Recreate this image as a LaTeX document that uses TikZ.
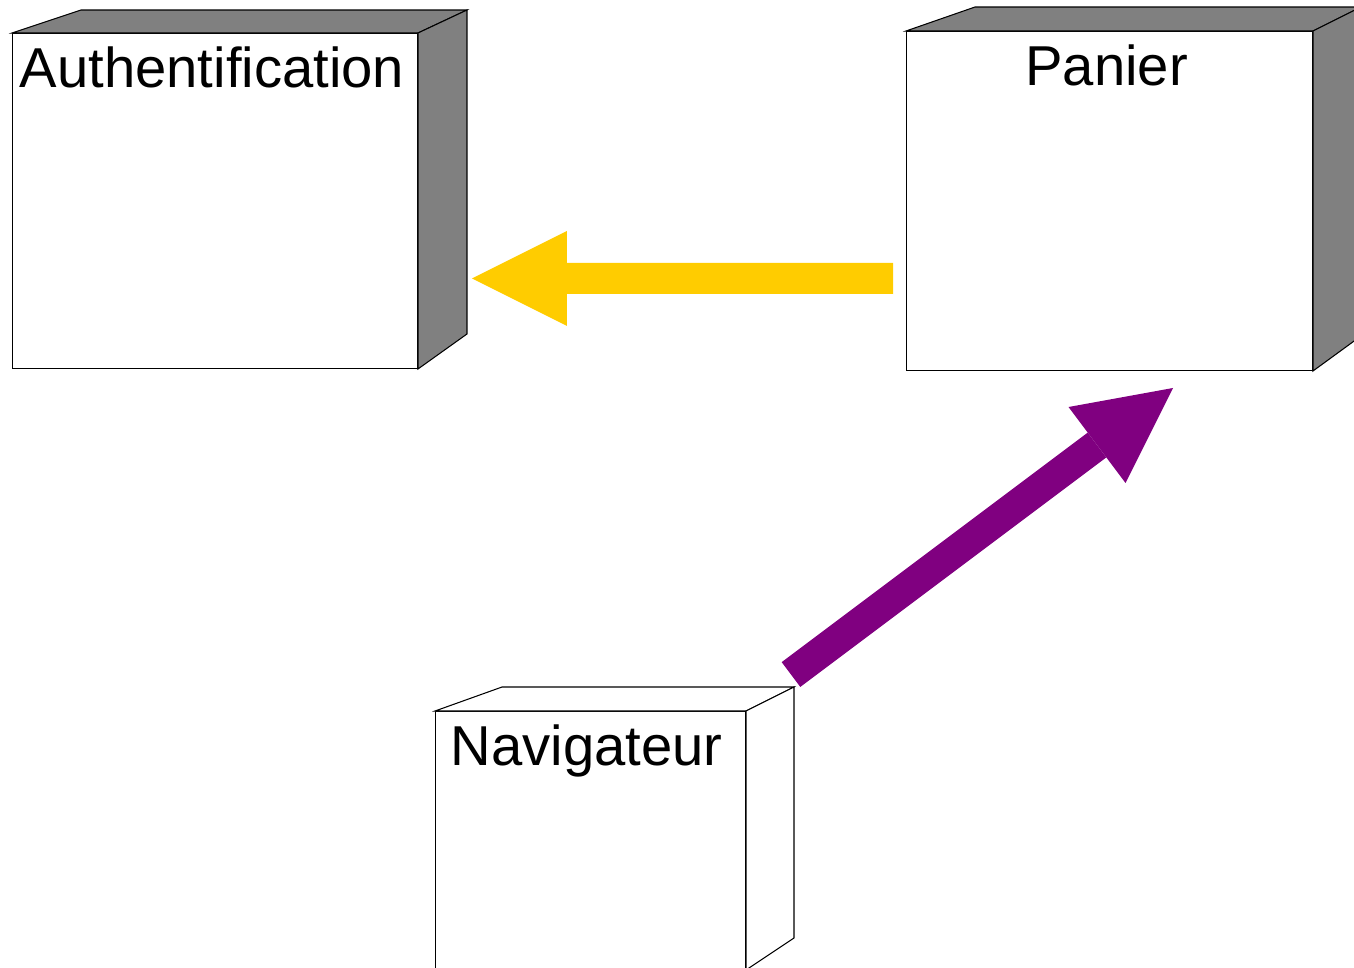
\documentclass[tikz,border=0pt]{standalone}
\usepackage{fontspec}
\setmainfont{Liberation Sans}
\usetikzlibrary{arrows.meta,calc}
\definecolor{gris}{HTML}{808080}
\definecolor{jaune}{HTML}{FFCC00}
\definecolor{violet}{HTML}{800080}
\begin{document}
\begin{tikzpicture}[x=0.02cm,y=-0.02cm]
\path[use as bounding box] (0,0) rectangle (1354,967);

\tikzstyle{every path}+=[line width=0.6pt]
\tikzstyle{boite}=[draw,fill=white,rectangle,inner sep=0pt,anchor=north west]
\tikzstyle{titre}=[font=\fontsize{32}{38}\selectfont,inner sep=0pt,anchor=base]
\tikzstyle{fleche}=[line width=0.62cm,-{Triangle[length=1.9cm,width=1.9cm,line width=0pt]}]

% noeuds
\node[boite,minimum width=8.1cm,minimum height=6.7cm] (auth) at (12,33) {};
\node[boite,minimum width=8.12cm,minimum height=6.78cm] (panier) at (906,31) {};
\node[boite,minimum width=6.2cm,minimum height=5.16cm] (nav) at (435,711) {};

% faces du dessus et de cote
\filldraw[fill=gris] (auth.north west) -- ++(69,-23) -- ($(auth.north east)+(49,-23)$)
      -- (auth.north east) -- cycle;
\filldraw[fill=gris] (auth.north east) -- ++(49,-23) -- ($(auth.south east)+(49,-35)$)
      -- (auth.south east) -- cycle;
\filldraw[fill=gris] (panier.north west) -- ++(69,-24) -- ($(panier.north east)+(48,-24)$)
      -- (panier.north east) -- cycle;
\filldraw[fill=gris] (panier.north east) -- ++(48,-24) -- ($(panier.south east)+(48,-35)$)
      -- (panier.south east) -- cycle;
\filldraw[fill=white] (nav.north west) -- ++(67,-24) -- ($(nav.north east)+(48,-24)$)
      -- (nav.north east) -- cycle;
\filldraw[fill=white] (nav.north east) -- ++(48,-24) -- ($(nav.south east)+(48,-32)$)
      -- (nav.south east) -- cycle;

\node[titre] at ($(auth.north)+(-3,54)$) {Authentification};
\node[titre] at ($(panier.north)+(-3,54)$) {Panier};
\node[titre] at ($(nav.north)+(-4,54)$) {Navigateur};

% liens
\draw[fleche,jaune,shorten <=0.26cm,shorten >=1.08cm]
      ([yshift=-1.55cm]panier.west) -- ([yshift=-1.55cm]auth.east);
\draw[fleche,violet] ($(nav.north east)+(45,-36.5)$) -- ($(panier.south west)+(267,17)$);
\end{tikzpicture}
\end{document}
